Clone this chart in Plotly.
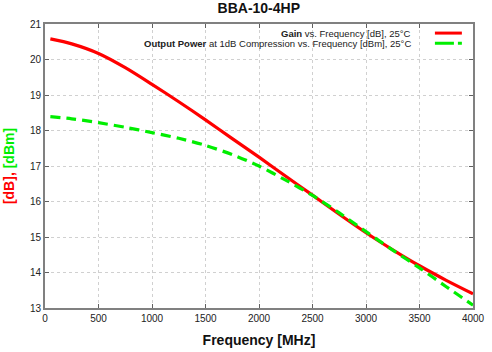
import plotly.graph_objects as go

freq = [50, 250, 500, 750, 1000, 1250, 1500, 1750, 2000, 2250, 2500, 2750, 3000, 3250, 3500, 3750, 4000]
gain_db = [20.58, 20.44, 20.17, 19.77, 19.30, 18.81, 18.30, 17.77, 17.25, 16.71, 16.18, 15.64, 15.12, 14.64, 14.19, 13.78, 13.40]
p1db_dbm = [18.39, 18.33, 18.22, 18.09, 17.94, 17.78, 17.58, 17.32, 17.00, 16.60, 16.17, 15.68, 15.15, 14.63, 14.13, 13.60, 13.08]
x_ticks = [0, 500, 1000, 1500, 2000, 2500, 3000, 3500, 4000]
y_ticks = [13, 14, 15, 16, 17, 18, 19, 20, 21]

RED = "#ff0000"
GREEN = "#00ee00"
FONT = "Liberation Sans, Arial, sans-serif"

fig = go.Figure()
fig.add_trace(go.Scatter(x=freq, y=gain_db, mode="lines", line=dict(color=RED, width=3.2, shape="spline", smoothing=0.8),
                         showlegend=False))
fig.add_trace(go.Scatter(x=freq, y=p1db_dbm, mode="lines",
                         line=dict(color=GREEN, width=3.2, dash="10px,6px", shape="spline", smoothing=0.8),
                         showlegend=False))

axis_common = dict(
    showline=True, linecolor="#808080", linewidth=2, mirror="allticks",
    ticks="inside", ticklen=4, tickcolor="#606060", tickwidth=1,
    showgrid=True, gridcolor="#d0d0d0", griddash="dot", gridwidth=1,
    zeroline=False, tickfont=dict(family=FONT, size=10, color="#222222"),
    automargin=False,
)

fig.update_layout(
    width=492, height=352,
    margin=dict(l=45, r=19, t=24, b=44),
    paper_bgcolor="white", plot_bgcolor="white",
    title=dict(text="<b>BBA-10-4HP</b>", x=0.526, xanchor="center", y=0.99, yanchor="top",
               font=dict(family=FONT, size=14, color="#111111")),
    xaxis=dict(range=[0, 4000], tickvals=x_ticks,
               title=dict(text="<b>Frequency [MHz]</b>", font=dict(family=FONT, size=14, color="#111111"), standoff=12),
               **axis_common),
    yaxis=dict(range=[13, 21], tickvals=y_ticks,
               title=dict(text=f"<b><span style='color:{RED}'>[dB],</span> <span style='color:{GREEN}'>[dBm]</span></b>",
                          font=dict(family=FONT, size=14), standoff=12),
               **axis_common),
    showlegend=False,
)

legend_items = [
    ("<b>Gain</b> vs. Frequency [dB], 25°C", RED, "solid", 0.968),
    ("<b>Output Power</b> at 1dB Compression vs. Frequency [dBm], 25°C", GREEN, "19px,4px", 0.932),
]
for text, color, dash, ypos in legend_items:
    fig.add_annotation(xref="paper", yref="paper", x=0.86, y=ypos, text=text, showarrow=False,
                       xanchor="right", yanchor="middle", font=dict(family=FONT, size=9.5, color="#222222"))
    fig.add_shape(type="line", xref="paper", yref="paper", x0=0.911, x1=0.974, y0=ypos, y1=ypos,
                  line=dict(color=color, width=3, dash=dash))

fig.write_html("out.html")
